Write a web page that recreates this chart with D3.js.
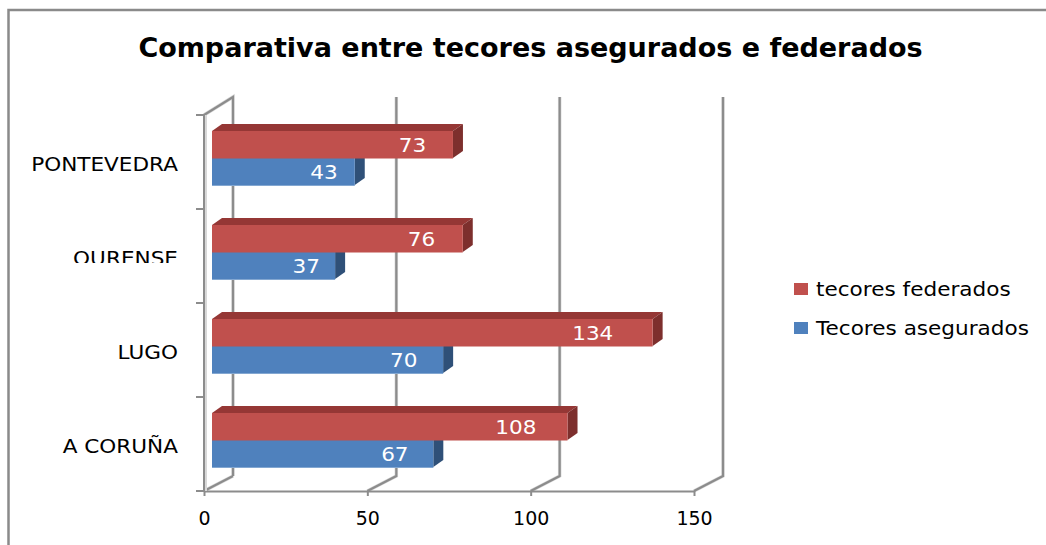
<!DOCTYPE html>
<html>
<head>
<meta charset="utf-8">
<script src="https://cdn.jsdelivr.net/npm/d3@7"></script>
<style>
  html, body { margin: 0; padding: 0; background: #fff; }
  svg { display: block; }
  text { font-family: "DejaVu Sans", sans-serif; }
</style>
</head>
<body>
<div id="chart"></div>
<script>
var svgWidth = 1046;
var svgHeight = 545;

var categories = ['A CORUÑA', 'LUGO', 'OURENSE', 'PONTEVEDRA'];
var federados = [108, 134, 76, 73];
var asegurados = [67, 70, 37, 43];
var xTicks = [0, 50, 100, 150];

var chartTitle = 'Comparativa entre tecores asegurados e federados';
var legendNames = ['tecores federados', 'Tecores asegurados'];

// the original picture was stretched sideways, text keeps that look
var stretch = 1.136;
var labelSize = 19;

var svg = d3.select('#chart').append('svg')
  .attr('width', svgWidth)
  .attr('height', svgHeight);

// outer frame, only top and left are visible in the picture
svg.append('path')
  .attr('d', 'M8.5,545V10H1046')
  .attr('fill', 'none')
  .attr('stroke', '#8a8a8a')
  .attr('stroke-width', 2.5);

svg.append('text')
  .attr('x', 530.5)
  .attr('y', 57)
  .attr('text-anchor', 'middle')
  .attr('font-size', 27)
  .attr('font-weight', 'bold')
  .attr('fill', '#000')
  .text(chartTitle);

// front plane scales
var x = d3.scaleLinear().domain([0, 150]).range([204, 694]);
var y = d3.scaleBand().domain(categories).range([491, 115]);

// bars have their own scale, the 3d plot pushes them off the floor
var xBar = d3.scaleLinear().domain([0, 150]).range([214, 705]);
// value labels drift left of the bar ends as the bars get longer
var xLabel = d3.scaleLinear().domain([0, 150]).range([197, 640]);
var barLeft = 212;
var barH = 27;
var barTop = 16;
var depthX = 29;
var barDepthX = 10, barDepthY = 7;

var grid = svg.append('g');

// light halo then the dark line, for the back wall lines
xTicks.forEach(function(t) {
  var bx = x(t) + depthX;
  var d = `M${x(t)},491L${bx},476V97`;
  if (t === 0) d = `M${x(t)},491L${bx},476M${x(t)},115L${bx},97V476`;
  grid.append('path').attr('d', d).attr('fill', 'none')
    .attr('stroke', '#d8d8d8').attr('stroke-width', 3.5);
  grid.append('path').attr('d', d).attr('fill', 'none')
    .attr('stroke', '#8c8c8c').attr('stroke-width', 2.2);
});

// x axis
var xAxis = svg.append('g')
  .attr('transform', 'translate(0,491)')
  .call(d3.axisBottom(x).tickValues(xTicks).tickSize(5).tickSizeOuter(0).tickPadding(16));
xAxis.select('.domain').attr('stroke', '#8c8c8c').attr('stroke-width', 2);
xAxis.selectAll('line').attr('stroke', '#8c8c8c').attr('stroke-width', 2);
xAxis.selectAll('text').attr('font-size', 19).attr('font-family', '"DejaVu Sans"').attr('fill', '#000');

// category axis, ticks sit between the bands
var wall = svg.append('g');
wall.append('line')
  .attr('x1', x(0)).attr('x2', x(0))
  .attr('y1', 115).attr('y2', 491)
  .attr('stroke', '#8c8c8c').attr('stroke-width', 2);
wall.append('line')
  .attr('x1', x(0) + 2).attr('x2', x(0) + 2)
  .attr('y1', 115).attr('y2', 491)
  .attr('stroke', '#d8d8d8').attr('stroke-width', 2);
var bandEdges = categories.map(function(c) { return y(c); }).concat([491]);
wall.selectAll('.tick').data(bandEdges).enter().append('line')
  .attr('x1', 196).attr('x2', x(0))
  .attr('y1', function(d) { return d; })
  .attr('y2', function(d) { return d; })
  .attr('stroke', '#8c8c8c').attr('stroke-width', 2);

// OURENSE label is cut off at the bottom in the original
svg.append('clipPath').attr('id', 'ourenseClip')
  .append('rect').attr('x', 0).attr('y', 240).attr('width', 200).attr('height', 23);

svg.selectAll('.catLabel').data(categories).enter().append('g')
  .attr('class', 'catLabel')
  .attr('clip-path', function(d) { return d === 'OURENSE' ? 'url(#ourenseClip)' : null; })
  .append('text')
  .attr('transform', function(d) { return `translate(178,${y(d) + 55.5}) scale(${stretch},1)`; })
  .attr('text-anchor', 'end')
  .attr('font-size', labelSize)
  .attr('fill', '#000')
  .text(function(d) { return d; });

var colors = {
  red: { front: '#c0504d', top: '#953735', side: '#7d2f2d' },
  blue: { front: '#4f81bd', top: '#3a5f8c', side: '#2f5078', edge: '#b8cce4' }
};

function drawBars(values, col, offset) {
  var g = svg.append('g');
  categories.forEach(function(c, i) {
    var top = y(c) + barTop + offset;
    var right = xBar(values[i]);
    g.append('path')
      .attr('d', `M${barLeft},${top}l${barDepthX},${-barDepthY}H${right + barDepthX}l${-barDepthX},${barDepthY}Z`)
      .attr('fill', col.top);
    g.append('path')
      .attr('d', `M${right},${top}l${barDepthX},${-barDepthY}v${barH}l${-barDepthX},${barDepthY}Z`)
      .attr('fill', col.side);
    if (col.edge) {
      g.append('rect')
        .attr('x', barLeft).attr('y', top + barH)
        .attr('width', right - barLeft).attr('height', 1)
        .attr('fill', col.edge);
    }
    g.append('rect')
      .attr('x', barLeft).attr('y', top)
      .attr('width', right - barLeft).attr('height', barH + 0.5)
      .attr('fill', col.front);
    g.append('text')
      .attr('transform', `translate(${xLabel(values[i])},${top + 20.5}) scale(${stretch},1)`)
      .attr('text-anchor', 'middle')
      .attr('font-size', labelSize)
      .attr('fill', '#fff')
      .text(values[i]);
  });
}

// blue first, the red top faces only show above
drawBars(asegurados, colors.blue, barH);
drawBars(federados, colors.red, 0);

// legend
var legendColors = [colors.red.front, colors.blue.front];
var legend = svg.selectAll('.legendItem').data(legendNames).enter().append('g')
  .attr('class', 'legendItem')
  .attr('transform', function(d, i) { return `translate(794,${283 + i * 39})`; });
legend.append('rect')
  .attr('width', 14).attr('height', 12)
  .attr('fill', function(d, i) { return legendColors[i]; });
legend.append('text')
  .attr('transform', `translate(22,12.5) scale(${stretch},1)`)
  .attr('font-size', labelSize)
  .attr('fill', '#000')
  .text(function(d) { return d; });
</script>
</body>
</html>
